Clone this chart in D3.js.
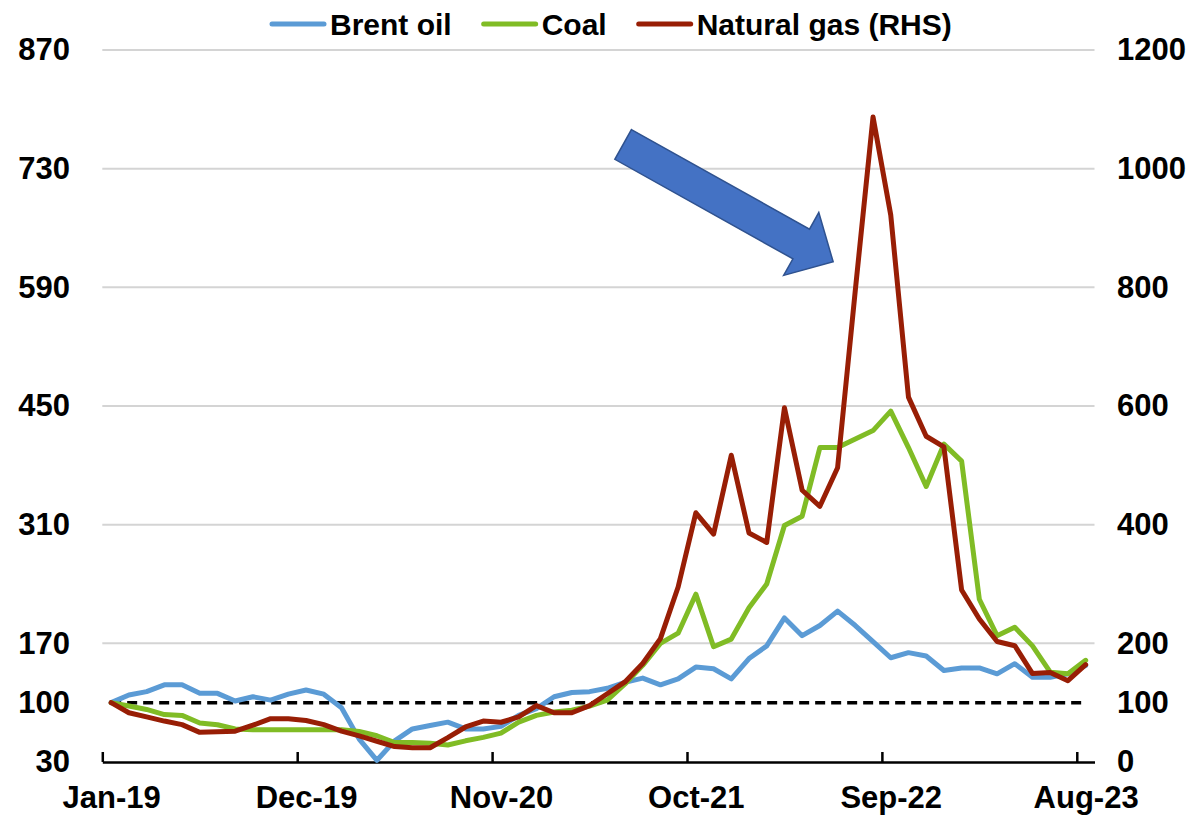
<!DOCTYPE html>
<html>
<head>
<meta charset="utf-8">
<script src="https://cdn.jsdelivr.net/npm/d3@7"></script>
<style>
  body { margin: 0; background: #fff; }
  text { font-family: "Liberation Sans", Arial, sans-serif; font-weight: bold; fill: #000; }
</style>
</head>
<body>
<div id="chart"></div>
<script>
// monthly categories Jan-19 .. Aug-23
var months = d3.timeMonth.range(new Date(2019, 0, 1), new Date(2023, 8, 1)).map(d3.timeFormat("%b-%y"));

// index, Jan-19 = 100
var brent = [100,109,113,121,121,111,111,102,107,103,
             110,115,110,94,57,32,55,69,73,77,
             69,69,72,85,93,107,112,113,117,124,
             129,121,128,142,140,128,152,167,200,179,
             191,208,191,172,153,159,155,138,141,141,
             134,146,130,130,134,144];
var coal = [100,96,92,86,85,76,74,69,68,68,
            68,68,68,68,66,61,53,53,52,50,
            55,59,64,77,85,89,91,96,103,122,
            144,170,182,228,166,175,212,240,309,320,
            401,401,411,421,444,401,355,405,385,222,
            179,189,167,136,134,150];
// right-hand scale
var gas = [100,83,76,69,63,50,51,52,62,73,
           73,70,63,52,44,35,26,24,24,41,
           59,69,67,76,95,83,83,95,115,135,
           166,208,295,420,384,517,386,370,597,458,
           431,496,795,1087,922,615,549,531,290,241,
           203,196,149,151,137,164];

var leftTicks = [30, 100, 170, 310, 450, 590, 730, 870];
var rightTicks = [0, 100, 200, 400, 600, 800, 1000, 1200];
var gridTicks = [170, 310, 450, 590, 730, 870];
var xTickLabels = ["Jan-19", "Dec-19", "Nov-20", "Oct-21", "Sep-22", "Aug-23"];

var seriesNames = ["Brent oil", "Coal", "Natural gas (RHS)"];
var seriesColors = ["#5b9bd5", "#80bc25", "#981e05"];

// layout
var W = 1196, H = 816;
var plotLeft = 102.3, plotRight = 1094.5, plotTop = 50, plotBottom = 762;

var svg = d3.select("#chart")
  .append("svg")
    .attr("width", W)
    .attr("height", H)
    .style("background", "#fff");

var x = d3.scaleLinear().domain([-0.5, months.length - 0.5]).range([plotLeft, plotRight]);
var yL = d3.scaleLinear().domain([30, 870]).range([plotBottom, plotTop]);
var yR = d3.scaleLinear().domain([0, 1200]).range([plotBottom, plotTop]);

// gridlines
svg.append("g")
  .selectAll("line")
  .data(gridTicks)
  .enter()
  .append("line")
    .attr("x1", plotLeft)
    .attr("x2", plotRight)
    .attr("y1", d => yL(d))
    .attr("y2", d => yL(d))
    .attr("stroke", "#d4d4d4")
    .attr("stroke-width", 2);

// left labels
svg.append("g")
  .attr("transform", "translate(70,0)")
  .call(d3.axisLeft(yL).tickValues(leftTicks).tickSize(0).tickPadding(0))
  .call(g => g.select(".domain").remove())
  .selectAll("text")
    .attr("font-size", 31)
    .attr("font-family", null);

// right labels
svg.append("g")
  .attr("transform", "translate(1117,0)")
  .call(d3.axisRight(yR).tickValues(rightTicks).tickSize(0).tickPadding(0).tickFormat(d3.format("d")))
  .call(g => g.select(".domain").remove())
  .selectAll("text")
    .attr("font-size", 31)
    .attr("font-family", null);

// dashed 100 line
var base = d3.line()
  .x(d => x(d))
  .y(() => yL(100));
svg.append("path")
  .attr("d", base([0, months.length - 1]))
  .attr("stroke", "#000")
  .attr("stroke-width", 3.5)
  .attr("stroke-dasharray", "10,6")
  .attr("fill", "none");

// x axis: tick marks between categories, labels on categories
svg.append("g")
  .attr("transform", "translate(0," + plotBottom + ")")
  .call(d3.axisBottom(x)
    .tickValues(xTickLabels.map(m => months.indexOf(m) - 0.5))
    .tickSizeInner(-10)
    .tickSizeOuter(0)
    .tickFormat(""))
  .call(g => g.selectAll("path, line").attr("stroke", "#000").attr("stroke-width", 2.5));

svg.append("g")
  .attr("transform", "translate(0," + plotBottom + ")")
  .call(d3.axisBottom(x)
    .tickValues(xTickLabels.map(m => months.indexOf(m)))
    .tickSize(0)
    .tickPadding(24)
    .tickFormat(i => months[i]))
  .call(g => g.select(".domain").remove())
  .selectAll("text")
    .attr("font-size", 31)
    .attr("font-family", null);

// series lines
var lineL = d3.line().x((d, i) => x(i)).y(d => yL(d));
var lineR = d3.line().x((d, i) => x(i)).y(d => yR(d));

[[brent, lineL], [coal, lineL], [gas, lineR]].forEach((s, k) => {
  svg.append("path")
    .attr("d", s[1](s[0]))
    .attr("fill", "none")
    .attr("stroke", seriesColors[k])
    .attr("stroke-width", 5)
    .attr("stroke-linejoin", "round")
    .attr("stroke-linecap", "round");
});

// arrow pointing at the gas peak
var arrowTip = {month: 40.75, value: 843};
var arrowShape = [[-240.6,-17],[-36.6,-17],[-36.6,-36],[0,0],[-36.6,36],[-36.6,17],[-240.6,17]];
svg.append("path")
  .attr("d", "M" + arrowShape.join("L") + "Z")
  .attr("transform", "translate(" + x(arrowTip.month) + "," + yR(arrowTip.value) + ") rotate(29.2)")
  .attr("fill", "#4472c4")
  .attr("stroke", "#2f528f")
  .attr("stroke-width", 1.5);

// legend
var legend = svg.append("g").attr("transform", "translate(272,24)");
var lx = 0;
seriesNames.forEach((name, k) => {
  legend.append("line")
    .attr("x1", lx).attr("x2", lx + 52)
    .attr("y1", 0).attr("y2", 0)
    .attr("stroke", seriesColors[k])
    .attr("stroke-width", 5)
    .attr("stroke-linecap", "round");
  var t = legend.append("text")
    .attr("x", lx + 58)
    .attr("y", 0)
    .attr("dy", "0.35em")
    .attr("font-size", 30)
    .text(name);
  lx += 58 + t.node().getComputedTextLength() + 32;
});
</script>
</body>
</html>
